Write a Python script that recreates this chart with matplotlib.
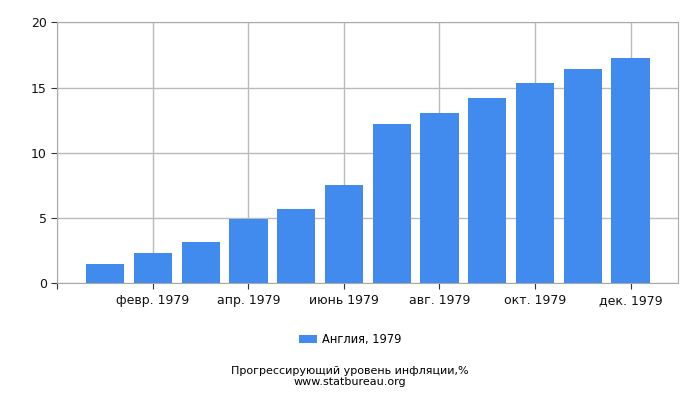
import numpy as np
import matplotlib
matplotlib.use('Agg')
import matplotlib.pyplot as plt

# inflation values, Jan..Dec 1979
months = ['янв. 1979', 'февр. 1979', 'март 1979', 'апр. 1979', 'май 1979', 'июнь 1979',
          'июль 1979', 'авг. 1979', 'сент. 1979', 'окт. 1979', 'нояб. 1979', 'дек. 1979']
values = [1.48, 2.32, 3.16, 4.93, 5.69, 7.53, 12.2, 13.05, 14.2, 15.35, 16.4, 17.26]
series_label = 'Англия, 1979'
yticks = [0, 5, 10, 15, 20]

fig = plt.figure(figsize=(7, 4), dpi=100)
ax = fig.add_axes([0.082, 0.292, 0.887, 0.652])

x = np.arange(len(values))
ax.bar(x, values, width=0.8, color='#418bee', label=series_label, zorder=3)

ax.set_xlim(-1, 12)
ax.set_ylim(0, 20)
ax.set_yticks(yticks)
ax.set_yticklabels([str(v) for v in yticks], fontsize=9)

# ticks at every other month, plus one at the left edge
tick_pos = [-1] + list(x[1::2])
tick_lab = [''] + months[1::2]
ax.set_xticks(tick_pos)
ax.set_xticklabels(tick_lab, fontsize=9)
ax.tick_params(axis='both', length=4, color='#333333', labelcolor='#111111')

ax.grid(True, color='#bbbbbb', linewidth=1, zorder=0)
for s in ax.spines.values():
    s.set_color('#aaaaaa')

fig.legend(loc='center', bbox_to_anchor=(0.5, 0.152), frameon=False, fontsize=8.3,
           handlelength=1.6, handleheight=0.7, handletextpad=0.4)

fig.text(0.5, 0.0715, 'Прогрессирующий уровень инфляции,%', ha='center', va='center', fontsize=8)
fig.text(0.5, 0.045, 'www.statbureau.org', ha='center', va='center', fontsize=8)

fig.savefig('out.png', dpi=100)
